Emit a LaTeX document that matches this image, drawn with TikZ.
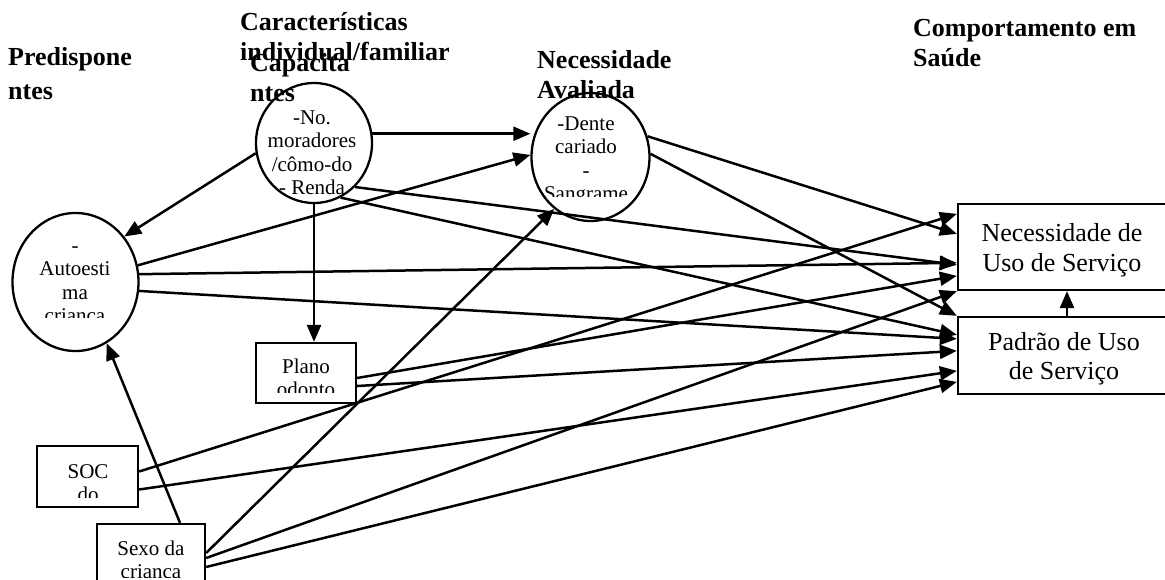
\documentclass[tikz,border=0pt]{standalone}
\usepackage{fontspec}
\setmainfont{Liberation Serif}
\usetikzlibrary{arrows.meta,shapes.geometric}
% stacked lines, first baseline on the node's base
\newcommand{\stack}[2][c]{\begin{tabular}[t]{@{}#1@{}}#2\end{tabular}}
\tikzset{
  head/.style={font=\bfseries\fontsize{26}{30}\selectfont, inner sep=0pt, anchor=base west},
  ovalbox/.style={ellipse, draw, line width=2.3pt, inner sep=0pt},
  rectbox/.style={draw, line width=2.3pt, inner sep=0pt},
  small/.style={font=\fontsize{21}{23.5}\selectfont, inner sep=0pt, anchor=base},
  big/.style={font=\fontsize{26}{29.5}\selectfont, inner sep=0pt, anchor=base},
  link/.style={line width=2.5pt, -{Triangle[length=17pt,width=14pt]}},
}
\begin{document}
\begin{tikzpicture}[x=1pt,y=-1pt]
\useasboundingbox (0,0) rectangle (1165,579);
\clip (0,0) rectangle (1165,579);
\fill[white] (0,0) rectangle (1165,579);

% column headings
\node[head] (hpre) at (8,65) {\stack[l]{Predispone\\[4pt]ntes}};
\node[head] (hcar) at (240,30) {\stack[l]{Características\\individual/familiar}};
\node[head] (hcap) at (250,71) {\stack[l]{Capacita\\ntes}};
\node[head] (hnec) at (537,68) {\stack[l]{Necessidade\\Avaliada}};
\node[head] (hcom) at (913,36) {\stack[l]{Comportamento em\\Saúde}};

% variables
\node[ovalbox, minimum width=116pt, minimum height=120pt] (mor) at (314,143) {};
\node[small] (mortxt) at (312,124) {\stack{-No.\\moradores\\/cômo-do\\- Renda}};

\node[ovalbox, minimum width=118pt, minimum height=128pt] (den) at (590.5,157) {};
\begin{scope}
  \clip (535,100) rectangle (645,196);
  \node[small] (dentxt) at (586,130) {\stack{-Dente\\cariado\\-\\Sangrame}};
\end{scope}

\node[ovalbox, minimum width=126pt, minimum height=138pt] (aut) at (75.5,282) {};
\begin{scope}
  \clip (20,225) rectangle (130,317);
  \node[small] (auttxt) at (75,252) {\stack{-\\Autoesti\\ma\\criança}};
\end{scope}

\node[rectbox, minimum width=100pt, minimum height=60pt] (pla) at (306,373) {};
\begin{scope}
  \clip (260,345) rectangle (352,392.5);
  \node[small] (platxt) at (306,373) {\stack{Plano\\odonto}};
\end{scope}

\node[rectbox, minimum width=101pt, minimum height=61pt] (soc) at (87.5,476.5) {};
\begin{scope}
  \clip (40,448) rectangle (135,497);
  \node[small] (soctxt) at (88,478) {\stack{SOC\\do}};
\end{scope}

\node[rectbox, minimum width=108pt, minimum height=76pt] (sex) at (151,562) {};
\begin{scope}
  \clip (100,526) rectangle (202,577);
  \node[small] (sextxt) at (151,555) {\stack{Sexo da\\criança}};
\end{scope}

\node[rectbox, minimum width=212pt, minimum height=86pt] (nec) at (1064,247) {};
\node[big] (nectxt) at (1062,241.5) {\stack{Necessidade de\\Uso de Serviço}};

\node[rectbox, minimum width=212pt, minimum height=77pt] (pad) at (1064,355.5) {};
\node[big] (padtxt) at (1064,350) {\stack{Padrão de Uso\\de Serviço}};

% paths from the household characteristics
\draw[link] (mor.190) -- (aut.43);
\draw[link] (mor.9) -- (mor.9 -| den.west);
\draw[link] (mor.south) -- (mor.south |- pla.north);
\draw[link] (mor.313) -- ([yshift=-62pt]nec.north west);
\draw[link] (mor.296) -- ([yshift=-19pt]pad.north west);

% paths from self-esteem
\draw[link] (aut.15) -- (den.178);
\draw[link] (aut.7) -- ([yshift=-60pt]nec.north west);
\draw[link] (aut.352) -- ([yshift=-23pt]pad.north west);

% paths from dental plan
\draw[link] ([yshift=-5pt]pla.east) -- ([yshift=-73pt]nec.north west);
\draw[link] ([yshift=-13pt]pla.east) -- ([yshift=-35pt]pad.north west);

% paths from SOC
\draw[link] ([yshift=5pt]soc.east) -- ([yshift=-11pt]nec.north west);
\draw[link] ([yshift=-13pt]soc.east) -- ([yshift=-55pt]pad.north west);

% paths from sex of the child
\draw[link] ([xshift=29pt]sex.north) -- (aut.297);
\draw[link] ([yshift=9pt]sex.east) -- (den.235);
\draw[link] ([yshift=4pt]sex.east) -- (nec.south west);
\draw[link] ([yshift=-5pt]sex.east) -- ([yshift=-66pt]pad.north west);

% paths from assessed need
\draw[link] (den.20) -- ([yshift=-31pt]nec.north west);
\draw[link] (den.3) -- (pad.north west);

% use pattern to need of use
\draw[link] ([xshift=3pt]pad.north) -- ([xshift=3pt]nec.south);
\end{tikzpicture}
\end{document}
